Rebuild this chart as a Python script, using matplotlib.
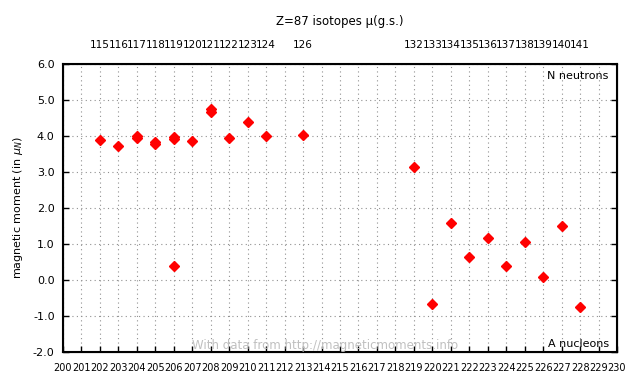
import matplotlib
matplotlib.use("Agg")
import matplotlib.pyplot as plt
import numpy as np

# Z=87 isotopes, ground-state magnetic moments
Z = 87
mass_numbers = [202, 203, 204, 204, 205, 205, 206, 206, 206, 207, 208, 208, 209, 210, 211, 213,
                219, 220, 221, 222, 223, 224, 225, 226, 227, 228]
moments = [3.89, 3.72, 3.95, 4.01, 3.78, 3.83, 3.92, 3.97, 0.40, 3.87, 4.68, 4.75, 3.94, 4.40, 3.99, 4.02,
           3.14, -0.66, 1.58, 0.65, 1.17, 0.40, 1.06, 0.08, 1.50, -0.75]

a_min, a_max = 200, 230
y_min, y_max = -2.0, 6.0

plt.rcParams['font.family'] = ['DejaVu Sans']
plt.rcParams['font.size'] = 8

fig = plt.figure(figsize=(6.4, 3.84), dpi=100)
ax = fig.add_axes([63/640, 1 - 352/384, (617 - 63)/640, (352 - 64)/384])

ax.plot(mass_numbers, moments, linestyle='none', marker='D', markersize=5.6,
        color='#ff0000', markeredgecolor='#ff0000', zorder=3)

ax.set_xlim(a_min, a_max)
ax.set_ylim(y_min, y_max)
ax.set_xticks(np.arange(a_min, a_max + 1))
ax.set_xticklabels([str(a) for a in range(a_min, a_max + 1)], fontsize=7)
ax.set_yticks(np.arange(-2, 7, 1.0))
ax.set_yticklabels(['%.1f' % v for v in np.arange(-2, 7, 1.0)])
ax.grid(True, linestyle=(0, (1, 3)), color='#909090', linewidth=0.8)
ax.tick_params(direction='in', top=True, right=True, length=4, width=1, pad=6)
ax.tick_params(axis='x', pad=8)
for s in ax.spines.values():
    s.set_linewidth(1.5)

# neutron numbers on top
n_pos = sorted(set(mass_numbers))
top = ax.twiny()
top.set_xlim(a_min, a_max)
top.set_xticks(n_pos)
top.set_xticklabels([str(a - Z) for a in n_pos], fontsize=7.5)
top.tick_params(length=0, pad=10)

ax.set_ylabel('magnetic moment (in $\\mu_N$)', labelpad=6)
fig.text(340/640, 1 - 22/384, 'Z=87 isotopes \u03bc(g.s.)', ha='center', va='center', fontsize=8.5)

ax.text(0.985, 0.975, 'N neutrons', transform=ax.transAxes, ha='right', va='top')
ax.text(0.985, 0.012, 'A nucleons', transform=ax.transAxes, ha='right', va='bottom')
ax.text(192/640, 1 - 346/384, 'With data from http://magneticmoments.info', transform=fig.transFigure,
        ha='left', va='center', color='#c0c0c0', fontsize=8.5)

fig.savefig('out.png', dpi=100)
